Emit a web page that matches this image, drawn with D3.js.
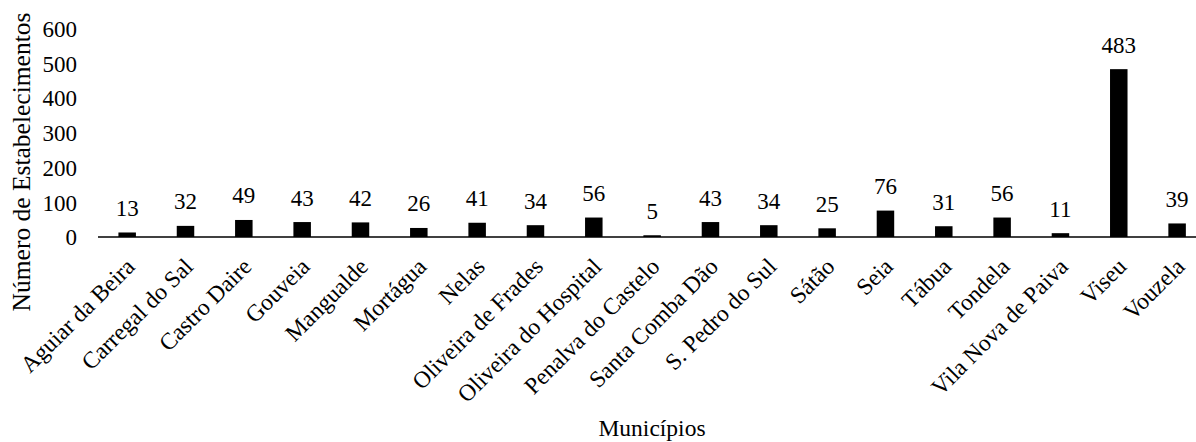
<!DOCTYPE html>
<html>
<head>
<meta charset="utf-8">
<script src="https://cdn.jsdelivr.net/npm/d3@7"></script>
<style>
  html, body { margin: 0; padding: 0; background: #fff; }
</style>
</head>
<body>
<svg id="chart" width="1196" height="442"></svg>
<script>
// Municípios and number of establishments
const municipios = [
  "Aguiar da Beira", "Carregal do Sal", "Castro Daire", "Gouveia", "Mangualde",
  "Mortágua", "Nelas", "Oliveira de Frades", "Oliveira do Hospital", "Penalva do Castelo",
  "Santa Comba Dão", "S. Pedro do Sul", "Sátão", "Seia", "Tábua",
  "Tondela", "Vila Nova de Paiva", "Viseu", "Vouzela"
];
const estabelecimentos = [13, 32, 49, 43, 42, 26, 41, 34, 56, 5, 43, 34, 25, 76, 31, 56, 11, 483, 39];
const yTicks = [0, 100, 200, 300, 400, 500, 600];

const serif = "'Liberation Serif', 'Times New Roman', Times, 'DejaVu Serif', serif";
const fontSize = 23;

const svg = d3.select("#chart")
  .style("font-family", serif);

const x0 = 98, step = 58.33;
const x = d3.scaleBand()
  .domain(municipios)
  .range([x0, x0 + step * municipios.length])
  .paddingInner(0.7)
  .paddingOuter(0.35);

const y = d3.scaleLinear().domain([0, 600]).range([237, 28.5]);

// y tick labels (no axis line, no tick marks)
const yAxis = d3.axisLeft(y).tickValues(yTicks).tickSize(0).tickPadding(0);
const gy = svg.append("g").attr("transform", "translate(77,0)").call(yAxis);
gy.attr("font-family", null).attr("font-size", null);
gy.select(".domain").remove();
gy.selectAll("text")
  .style("font-family", serif)
  .attr("font-size", fontSize)
  .attr("dy", "0.34em");

// bars
svg.append("g").selectAll("rect")
  .data(municipios)
  .join("rect")
  .attr("x", d => x(d))
  .attr("width", x.bandwidth())
  .attr("y", (d, i) => y(estabelecimentos[i]))
  .attr("height", (d, i) => y(0) - y(estabelecimentos[i]))
  .attr("fill", "#000");

// x axis line
svg.append("line")
  .attr("x1", x0).attr("x2", 1196)
  .attr("y1", y(0)).attr("y2", y(0))
  .attr("stroke", "#000").attr("stroke-width", 1.5);

// value labels
svg.append("g").selectAll("text")
  .data(municipios)
  .join("text")
  .style("font-family", serif)
  .attr("x", d => x(d) + x.bandwidth() / 2)
  .attr("y", (d, i) => y(estabelecimentos[i]) - 16.5)
  .attr("text-anchor", "middle")
  .attr("font-size", fontSize)
  .text((d, i) => estabelecimentos[i]);

// rotated category labels
svg.append("g").selectAll("text")
  .data(municipios)
  .join("text")
  .style("font-family", serif)
  .attr("transform", d => `translate(${x(d) + x.bandwidth() / 2 + 9},268) rotate(-45)`)
  .attr("text-anchor", "end")
  .attr("font-size", 23.5)
  .text(d => d);

// axis titles
svg.append("text")
  .style("font-family", serif)
  .attr("transform", "translate(30,162) rotate(-90)")
  .attr("text-anchor", "middle")
  .attr("font-size", 25.5)
  .text("Número de Estabelecimentos");

svg.append("text")
  .style("font-family", serif)
  .attr("x", 652).attr("y", 436)
  .attr("text-anchor", "middle")
  .attr("font-size", 23.5)
  .text("Municípios");
</script>
</body>
</html>
